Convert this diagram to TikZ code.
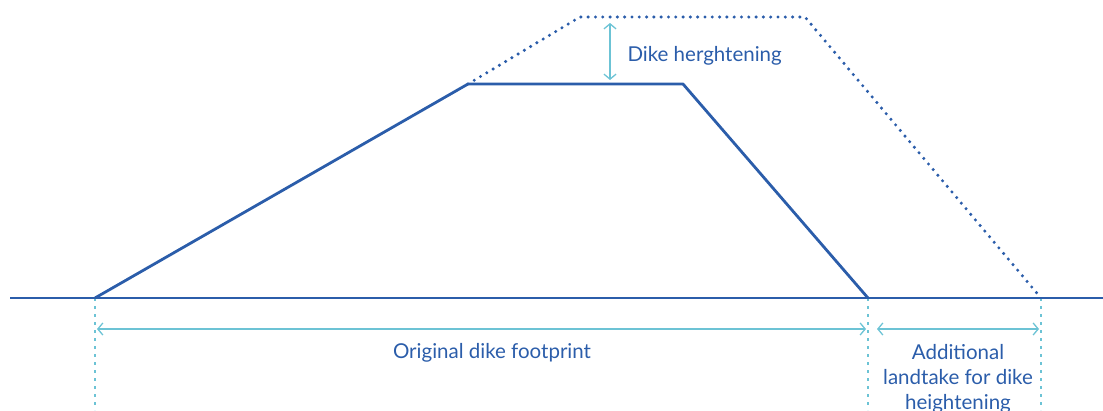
\documentclass[tikz,border=0pt]{standalone}
\usepackage{fontspec}
\setmainfont{Lato}
\usetikzlibrary{arrows.meta}

\definecolor{dikeblue}{HTML}{2B5DAA}
\definecolor{measureblue}{HTML}{6CC3D5}

\begin{document}
\begin{tikzpicture}[x=1pt,y=-1pt,
						dike/.style={draw=dikeblue, line width=2.8pt, line join=round},
						raised/.style={draw=dikeblue, line width=3.4pt, line cap=round, dash pattern=on 0pt off 7.3pt},
						guide/.style={draw=measureblue, line width=2.8pt, dash pattern=on 2.8pt off 5.2pt},
						measure/.style={draw=measureblue, line width=1.3pt, {Straight Barb[length=5pt,width=12pt]}-{Straight Barb[length=5pt,width=12pt]}},
						label/.style={text=dikeblue, font=\fontsize{20.5}{25}\selectfont, align=center}]

		\useasboundingbox (0,0) rectangle (1103,410);

		\coordinate (groundL) at (10,298);
		\coordinate (groundR) at (1103,298);
		\coordinate (toeL) at (95,298);
		\coordinate (crestL) at (468,84);
		\coordinate (crestR) at (683,84);
		\coordinate (toeR) at (868,298);
		\coordinate (newcrestL) at (580,17);
		\coordinate (newcrestR) at (805,17);
		\coordinate (newtoeR) at (1041,298);
		\coordinate (lowL) at (95,410);
		\coordinate (lowM) at (868,410);
		\coordinate (lowR) at (1041,410);
		\coordinate (raiseTop) at (610,23);
		\coordinate (raiseBot) at (610,80);
		\coordinate (footL) at (97,329);
		\coordinate (footR) at (866,329);
		\coordinate (takeL) at (877,329);
		\coordinate (takeR) at (1039,329);

		\draw[guide] (toeL) -- (lowL);
		\draw[guide] (toeR) -- (lowM);
		\draw[guide] (newtoeR) -- (lowR);

		\draw[raised] (crestL) -- (newcrestL) -- (newcrestR) -- (newtoeR);
		\draw[dike] (groundL) -- (groundR);
		\draw[dike] (toeL) -- (crestL) -- (crestR) -- (toeR);

		\draw[measure] (raiseTop) -- (raiseBot);
		\draw[measure] (footL) -- (footR);
		\draw[measure] (takeL) -- (takeR);

		\node[label, anchor=west] (raiseText) at (624,56) {Dike herghtening};
		\node[label, anchor=north] (footText) at (492,340) {Original dike footprint};
		\node[label, anchor=north] (takeText) at (958,341) {Additional\\landtake for dike\\heightening};

	\end{tikzpicture}
\end{document}
